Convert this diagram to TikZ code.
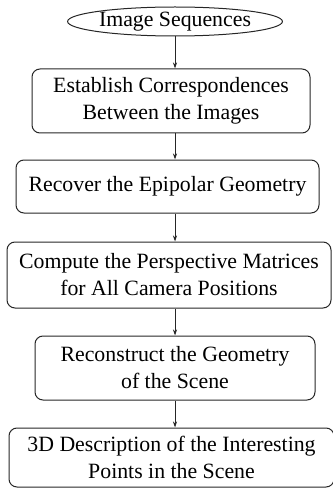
\documentclass[tikz,border=0pt]{standalone}
\usepackage{fontspec}
\setmainfont{Liberation Serif}
\usetikzlibrary{shapes.geometric,arrows.meta}
\begin{document}
\begin{tikzpicture}[x=1pt,y=-1pt,
  stepbox/.style={draw=black!85,line width=1pt,rounded corners=8pt,align=center,
    font=\fontsize{21.8}{27}\selectfont,inner sep=0pt},
  flow/.style={draw=black!85,line width=1pt,-{Stealth[length=6pt,width=4pt]}}]
\useasboundingbox (0,0) rectangle (332,489);
\node[ellipse,draw=black!85,line width=1pt,minimum width=192pt,minimum height=29pt,inner sep=0pt,
  font=\fontsize{21.8}{27}\selectfont] (e) at (175,21.5) {Image Sequences};
\node[stepbox,minimum width=278pt,minimum height=64pt] (b1) at (171,101)
  {Establish Correspondences\\Between the Images};
\node[stepbox,minimum width=303pt,minimum height=53pt] (b2) at (167.5,186.5)
  {Recover the Epipolar Geometry};
\node[stepbox,minimum width=324pt,minimum height=66pt] (b3) at (169,275)
  {Compute the Perspective Matrices\\for All Camera Positions};
\node[stepbox,minimum width=280pt,minimum height=64pt] (b4) at (175,368)
  {Reconstruct the Geometry\\of the Scene};
\node[stepbox,minimum width=325pt,minimum height=59pt] (b5) at (171.5,457.5)
  {3D Description of the Interesting\\Points in the Scene};
\draw[flow] (e.south) -- (e.south |- b1.north);
\draw[flow] (b1.south -| e.south) -- (b2.north -| e.south);
\draw[flow] (b2.south -| e.south) -- (b3.north -| e.south);
\draw[flow] (b3.south -| e.south) -- (b4.north -| e.south);
\draw[flow] (b4.south -| e.south) -- (b5.north -| e.south);
\end{tikzpicture}
\end{document}
